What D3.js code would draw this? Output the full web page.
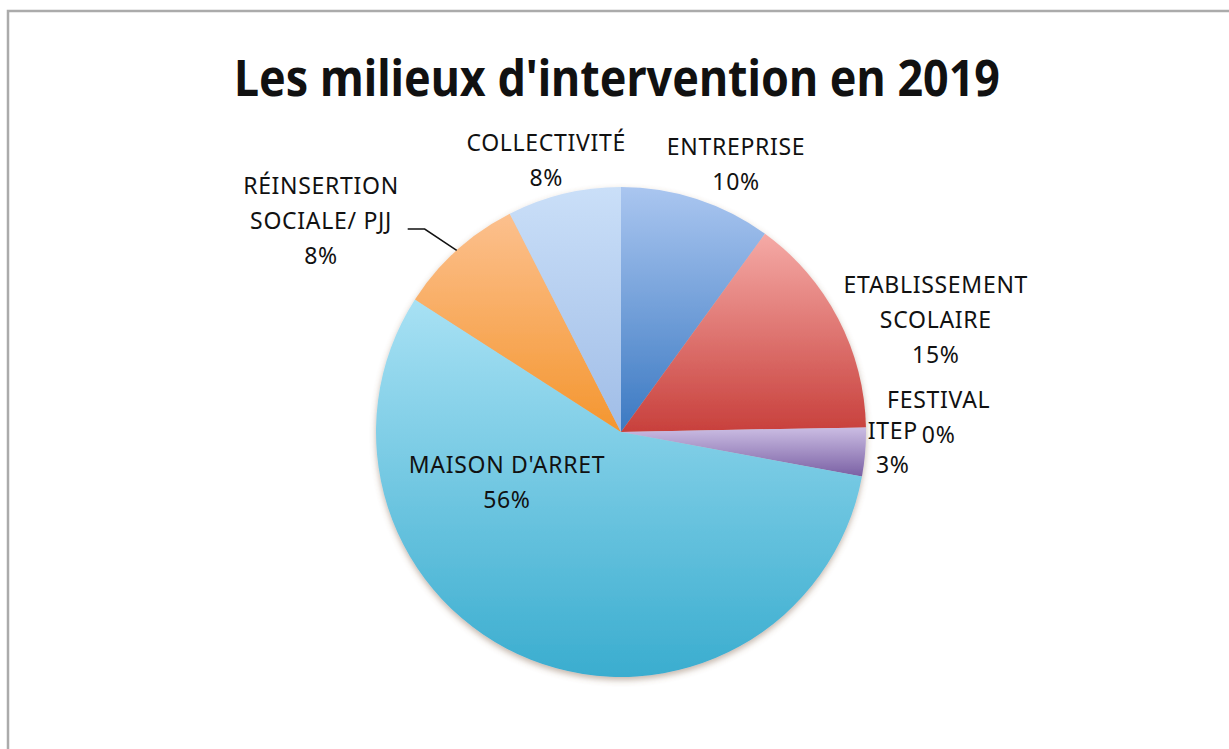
<!DOCTYPE html>
<html>
<head>
<meta charset="utf-8">
<script src="https://cdn.jsdelivr.net/npm/d3@7"></script>
<style>
  body { margin: 0; background: #fff; }
  svg { display: block; }
  text { font-family: "Noto Sans", "Open Sans", sans-serif; fill: #111; }
</style>
</head>
<body>
<div id="chart"></div>
<script>
// data
var categories = ["ENTREPRISE", "ETABLISSEMENT SCOLAIRE", "FESTIVAL", "ITEP", "MAISON D'ARRET", "RÉINSERTION SOCIALE/ PJJ", "COLLECTIVITÉ"];
var values = [10, 14.7, 0, 3.2, 56.2, 8.4, 7.5];
var labelLines = [["ENTREPRISE"], ["ETABLISSEMENT", "SCOLAIRE"], ["FESTIVAL"], ["ITEP"], ["MAISON D'ARRET"], ["RÉINSERTION", "SOCIALE/ PJJ"], ["COLLECTIVITÉ"]];

// styles: gradient top (light) -> bottom (dark)
var topColors = ["#aac6f0", "#f5aaa6", "#b5d88a", "#cbbde3", "#a8e1f4", "#fcc08e", "#cadff8"];
var bottomColors = ["#3b79c2", "#c8403c", "#6f9a3a", "#7a60a4", "#3aadcf", "#f4962f", "#a0bde7"];
// label placement: radius factor + nudge
var labelPos = [
  {k: 1.15, dx: 28, dy: 0},
  {k: 1.15, dx: 65, dy: 18},
  {k: 1.15, dx: 36, dy: -9},
  {k: 1.15, dx: -9, dy: -7},
  {k: 0.5, dx: -69, dy: -63},
  {k: 1.15, dx: -111, dy: -2},
  {k: 1.15, dx: -9, dy: 2}
];

var W = 1229, H = 749;
var cx = 621, cy = 432, r = 245;
var lh = 35;

var svg = d3.select('#chart')
  .append('svg')
  .attr('width', W)
  .attr('height', H);

var defs = svg.append('defs');

categories.forEach(function(c, i) {
  var g = defs.append('linearGradient')
    .attr('id', 'grad' + i)
    .attr('x1', 0).attr('y1', 0)
    .attr('x2', 0).attr('y2', 1);
  g.append('stop').attr('offset', '0%').attr('stop-color', topColors[i]);
  g.append('stop').attr('offset', '100%').attr('stop-color', bottomColors[i]);
});

var shadow = defs.append('filter')
  .attr('id', 'shadow')
  .attr('x', '-10%').attr('y', '-10%')
  .attr('width', '120%').attr('height', '120%');
shadow.append('feDropShadow')
  .attr('dx', 0).attr('dy', 3)
  .attr('stdDeviation', 3)
  .attr('flood-color', '#7a5a40')
  .attr('flood-opacity', 0.45);

// frame
svg.append('rect')
  .attr('x', 8)
  .attr('y', 11)
  .attr('width', W)
  .attr('height', H)
  .attr('fill', 'none')
  .attr('stroke', '#ababab')
  .attr('stroke-width', 2.5);

// title
svg.append('text')
  .attr('x', 617)
  .attr('y', 96)
  .attr('text-anchor', 'middle')
  .attr('font-size', 50)
  .attr('font-weight', 'bold')
  .attr('textLength', 766)
  .attr('lengthAdjust', 'spacingAndGlyphs')
  .text("Les milieux d'intervention en 2019");

var pie = d3.pie().sort(null).value(function(d) { return d; });
var arcs = pie(values);

var arc = d3.arc().innerRadius(0).outerRadius(r);

var g = svg.append('g')
  .attr('transform', 'translate(' + cx + ',' + cy + ')');

g.append('g')
  .attr('filter', 'url(#shadow)')
  .selectAll('path')
  .data(arcs)
  .enter()
  .append('path')
  .attr('d', arc)
  .attr('fill', function(d, i) { return 'url(#grad' + i + ')'; });

var total = d3.sum(values);

var labels = g.append('g');
arcs.forEach(function(d, i) {
  var p = labelPos[i];
  var la = d3.arc().innerRadius(r * p.k).outerRadius(r * p.k);
  var c = la.centroid(d);
  var x = c[0] + p.dx, y = c[1] + p.dy;
  var lines = labelLines[i].concat([Math.round(d.value / total * 100) + '%']);
  var n = lines.length;
  var t = labels.append('text')
    .attr('text-anchor', 'middle')
    .attr('font-size', 23)
    .attr('letter-spacing', 0.7);
  lines.forEach(function(s, j) {
    t.append('tspan')
      .attr('x', x)
      .attr('y', y + (j - (n - 1) / 2) * lh + 8)
      .text(s);
  });
});

// leader line for RÉINSERTION
var ri = 5;
var ang = (arcs[ri].startAngle + arcs[ri].endAngle) / 2;
var ex = Math.sin(ang) * r, ey = -Math.cos(ang) * r;
var ly = d3.arc().innerRadius(r * 1.15).outerRadius(r * 1.15).centroid(arcs[ri])[1] + labelPos[ri].dy + 8;
labels.append('polyline')
  .attr('points', [[ex - 49, ly], [ex - 32, ly], [ex, ey]].map(function(p) { return p.join(','); }).join(' '))
  .attr('fill', 'none')
  .attr('stroke', '#111')
  .attr('stroke-width', 1.5);
</script>
</body>
</html>
